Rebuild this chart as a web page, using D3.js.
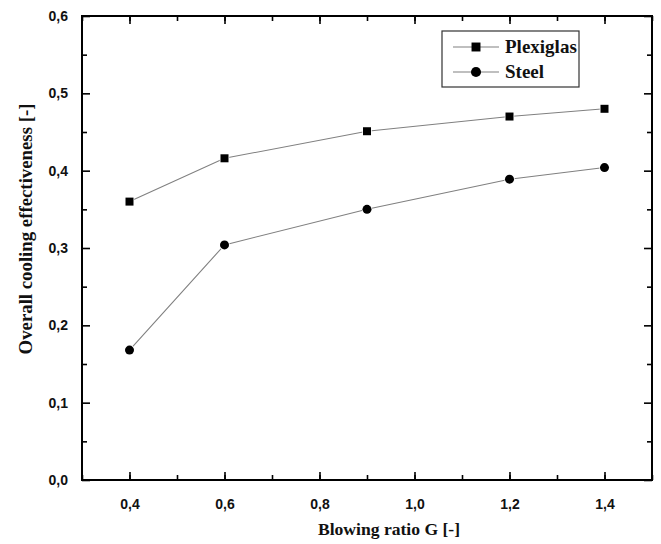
<!DOCTYPE html>
<html>
<head>
<meta charset="utf-8">
<script src="https://cdn.jsdelivr.net/npm/d3@7"></script>
<style>
  body { margin: 0; background: #fff; }
</style>
</head>
<body>
<div id="main-container"></div>
<script>
var blowingRatio = [0.4, 0.6, 0.9, 1.2, 1.4];
var plexiglas = [0.360, 0.416, 0.451, 0.470, 0.480];
var steel = [0.168, 0.304, 0.350, 0.389, 0.404];
var xTicks = [0.4, 0.6, 0.8, 1.0, 1.2, 1.4];
var yTicks = [0.0, 0.1, 0.2, 0.3, 0.4, 0.5, 0.6];

var width = 661, height = 544;
var margin = { left: 82, right: 9, top: 16, bottom: 64 };
var fmt = function(d) { return d3.format(".1f")(d).replace(".", ","); };

var svg = d3.select("#main-container")
    .append("svg")
    .attr("width", width)
    .attr("height", height);

var x = d3.scaleLinear().domain([0.3, 1.5]).range([margin.left, width - margin.right]);
var y = d3.scaleLinear().domain([0, 0.6]).range([height - margin.bottom, margin.top]);

var tickFont = "'Liberation Sans', Arial, sans-serif";
var titleFont = "'Liberation Serif', 'Times New Roman', serif";

// minor ticks halfway between majors
var xMinor = d3.range(0.3, 1.51, 0.1).map(function(d) { return +d.toFixed(2); });
var yMinor = d3.range(0.05, 0.6, 0.1).map(function(d) { return +d.toFixed(2); });

function axisStyle(g) {
    g.select(".domain").remove();
    g.selectAll(".tick line").attr("stroke", "#000").attr("stroke-width", 1.6);
    g.selectAll(".tick text")
        .attr("font-family", tickFont)
        .attr("font-weight", "bold")
        .attr("font-size", "14px")
        .attr("fill", "#111");
}

var x0 = margin.left, x1 = width - margin.right;
var y0 = height - margin.bottom, y1 = margin.top;

// bottom axis (ticks pointing inward)
svg.append("g").attr("transform", "translate(0," + y0 + ")")
    .call(d3.axisBottom(x).tickValues(xMinor).tickSize(-5).tickFormat(""))
    .call(axisStyle);
svg.append("g").attr("transform", "translate(0," + y0 + ")")
    .call(d3.axisBottom(x).tickValues(xTicks).tickSize(-8).tickPadding(19).tickFormat(fmt))
    .call(axisStyle);
// top axis
svg.append("g").attr("transform", "translate(0," + y1 + ")")
    .call(d3.axisTop(x).tickValues(xMinor).tickSize(-5).tickFormat(""))
    .call(axisStyle);
svg.append("g").attr("transform", "translate(0," + y1 + ")")
    .call(d3.axisTop(x).tickValues(xTicks).tickSize(-8).tickFormat(""))
    .call(axisStyle);
// left axis
svg.append("g").attr("transform", "translate(" + x0 + ",0)")
    .call(d3.axisLeft(y).tickValues(yMinor).tickSize(-5).tickFormat(""))
    .call(axisStyle);
svg.append("g").attr("transform", "translate(" + x0 + ",0)")
    .call(d3.axisLeft(y).tickValues(yTicks).tickSize(-8).tickFormat(fmt))
    .call(axisStyle)
    .selectAll(".tick text").attr("x", -14);
// right axis
svg.append("g").attr("transform", "translate(" + x1 + ",0)")
    .call(d3.axisRight(y).tickValues(yMinor).tickSize(-5).tickFormat(""))
    .call(axisStyle);
svg.append("g").attr("transform", "translate(" + x1 + ",0)")
    .call(d3.axisRight(y).tickValues(yTicks).tickSize(-8).tickFormat(""))
    .call(axisStyle);

// frame
svg.append("rect")
    .attr("x", x0).attr("y", y1)
    .attr("width", x1 - x0).attr("height", y0 - y1)
    .attr("fill", "none").attr("stroke", "#000").attr("stroke-width", 2);

var line = d3.line()
    .x(function(d) { return x(d[0]); })
    .y(function(d) { return y(d[1]); });

var series = [
    { name: "Plexiglas", values: plexiglas, shape: d3.symbolSquare },
    { name: "Steel", values: steel, shape: d3.symbolCircle }
];

var markerSize = 64;

series.forEach(function(s) {
    var pts = blowingRatio.map(function(b, i) { return [b, s.values[i]]; });
    svg.append("path")
        .datum(pts)
        .attr("d", line)
        .attr("fill", "none")
        .attr("stroke", "#808080")
        .attr("stroke-width", 1.1);
    svg.selectAll(null)
        .data(pts)
        .enter()
        .append("path")
        .attr("transform", function(d) { return "translate(" + x(d[0]) + "," + y(d[1]) + ")"; })
        .attr("d", d3.symbol().type(s.shape).size(markerSize))
        .attr("fill", "#000")
        .attr("stroke", "#fff")
        .attr("stroke-width", 1.5)
        .attr("paint-order", "stroke");
});

// legend
var legend = svg.append("g").attr("transform", "translate(442,31)");
legend.append("rect")
    .attr("width", 137).attr("height", 56)
    .attr("fill", "#fff").attr("stroke", "#333").attr("stroke-width", 1.2);
series.forEach(function(s, i) {
    var ly = 16 + i * 25;
    legend.append("line")
        .attr("x1", 11).attr("x2", 57).attr("y1", ly).attr("y2", ly)
        .attr("stroke", "#808080").attr("stroke-width", 1.1);
    legend.append("path")
        .attr("transform", "translate(34," + ly + ")")
        .attr("d", d3.symbol().type(s.shape).size(markerSize + 16))
        .attr("fill", "#000");
    legend.append("text")
        .attr("x", 63).attr("y", ly + 6)
        .text(s.name)
        .attr("font-family", titleFont)
        .attr("font-weight", "bold")
        .attr("font-size", "19px")
        .attr("fill", "#111");
});

// axis titles
svg.append("text")
    .attr("x", 389).attr("y", 535)
    .attr("text-anchor", "middle")
    .attr("font-family", titleFont)
    .attr("font-weight", "bold")
    .attr("font-size", "17.6px")
    .attr("fill", "#111")
    .text("Blowing ratio G [-]");

svg.append("text")
    .attr("transform", "translate(32,229) rotate(-90)")
    .attr("text-anchor", "middle")
    .attr("font-family", titleFont)
    .attr("font-weight", "bold")
    .attr("font-size", "18.8px")
    .attr("fill", "#111")
    .text("Overall cooling effectiveness [-]");
</script>
</body>
</html>
